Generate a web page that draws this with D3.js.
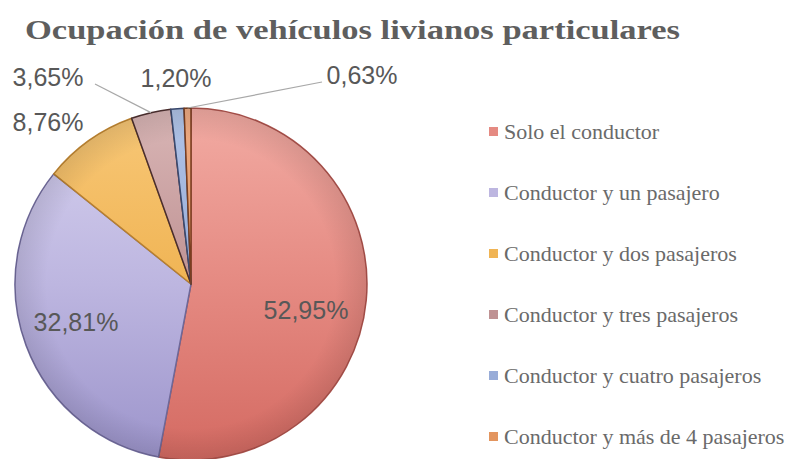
<!DOCTYPE html>
<html>
<head>
<meta charset="utf-8">
<script src="https://cdn.jsdelivr.net/npm/d3@7"></script>
<style>
  body { margin: 0; background: #fff; }
</style>
</head>
<body>
<div id="chart"></div>
<script>
// data
let categories = ['Solo el conductor', 'Conductor y un pasajero', 'Conductor y dos pasajeros',
  'Conductor y tres pasajeros', 'Conductor y cuatro pasajeros', 'Conductor y más de 4 pasajeros'];
let values = [52.95, 32.81, 8.76, 3.65, 1.20, 0.63];
let valueLabels = ['52,95%', '32,81%', '8,76%', '3,65%', '1,20%', '0,63%'];

// colours: top / middle / bottom of each slice gradient
let topColors = ['#f2aba3', '#d6d1ef', '#f8c878', '#d9b6b6', '#b0c3e6', '#eeab84'];
let midColors = ['#e58a82', '#bdb6e0', '#f0b454', '#bf9293', '#98acd8', '#e3955f'];
let bottomColors = ['#d46a62', '#9c94cb', '#e89e3e', '#a07072', '#8094c6', '#d07e4c'];
let strokeColors = ['#a8504a', '#6e6898', '#b88030', '#4a2e2e', '#3a4a70', '#7a3e20'];

// label layout (pixel positions)
let labelPos = [[306, 310], [76, 322], [48, 122], [48, 77], [176, 78], [362, 75]];

let width = 793;
let height = 459;
let cx = 191, cy = 284, radius = 176;

let svg = d3.select('#chart')
  .append('svg')
  .attr('width', width)
  .attr('height', height)
  .style('font-family', 'Liberation Serif, serif');

svg.append('rect').attr('width', width).attr('height', height).attr('fill', '#fff');

let defs = svg.append('defs');
values.forEach(function(v, i) {
  // gradient coordinates are in the pie group's space (centred at 0,0)
  let g = defs.append('linearGradient')
    .attr('id', 'grad' + i)
    .attr('gradientUnits', 'userSpaceOnUse')
    .attr('x1', 0).attr('y1', -radius)
    .attr('x2', 0).attr('y2', radius);
  g.append('stop').attr('offset', '0%').attr('stop-color', topColors[i]);
  g.append('stop').attr('offset', '50%').attr('stop-color', midColors[i]);
  g.append('stop').attr('offset', '100%').attr('stop-color', bottomColors[i]);
});
let rg = defs.append('radialGradient').attr('id', 'edge');
rg.append('stop').attr('offset', '82%').attr('stop-color', '#000').attr('stop-opacity', 0);
rg.append('stop').attr('offset', '100%').attr('stop-color', '#000').attr('stop-opacity', 0.1);

// title
svg.append('text')
  .attr('x', 25)
  .attr('y', 39)
  .attr('font-size', 28)
  .attr('font-weight', 'bold')
  .attr('fill', '#5e5e5e')
  .attr('textLength', 655)
  .attr('lengthAdjust', 'spacingAndGlyphs')
  .text('Ocupación de vehículos livianos particulares');

let pie = d3.pie().sort(null).value(function(d) { return d; });
let data_ready = pie(values);

let arc = d3.arc().innerRadius(0).outerRadius(radius);
let edgeArc = d3.arc().innerRadius(radius).outerRadius(radius);

let g = svg.append('g').attr('transform', 'translate(' + cx + ',' + cy + ')');

g.selectAll('path.slice')
  .data(data_ready)
  .enter()
  .append('path')
  .attr('class', 'slice')
  .attr('d', arc)
  .attr('fill', function(d, i) { return 'url(#grad' + i + ')'; })
  .attr('stroke', function(d, i) { return strokeColors[i]; })
  .attr('stroke-width', 1.5)
  .attr('stroke-linejoin', 'round');

g.append('circle').attr('r', radius).attr('fill', 'url(#edge)').attr('pointer-events', 'none');

// leader lines for the two labels that need one
let leaders = [3, 5];
leaders.forEach(function(i) {
  let p = edgeArc.centroid(data_ready[i]);
  let lx = i === 3 ? labelPos[i][0] + 47 : labelPos[i][0] - 40;
  let ly = labelPos[i][1] + 7;
  svg.append('path')
    .attr('d', 'M' + lx + ',' + ly + 'L' + (cx + p[0]) + ',' + (cy + p[1]))
    .attr('fill', 'none')
    .attr('stroke', '#a8a8a8')
    .attr('stroke-width', 1.2);
});

// value labels
svg.selectAll('text.val')
  .data(valueLabels)
  .enter()
  .append('text')
  .attr('class', 'val')
  .attr('x', function(d, i) { return labelPos[i][0]; })
  .attr('y', function(d, i) { return labelPos[i][1]; })
  .attr('text-anchor', 'middle')
  .attr('dominant-baseline', 'central')
  .attr('font-family', 'Liberation Sans, sans-serif')
  .attr('font-size', 25)
  .attr('fill', '#585858')
  .text(function(d) { return d; });

// legend
let legend = svg.selectAll('g.legend')
  .data(categories)
  .enter()
  .append('g')
  .attr('class', 'legend')
  .attr('transform', function(d, i) { return 'translate(489,' + (130 + i * 61) + ')'; });

legend.append('rect')
  .attr('x', 0).attr('y', -3)
  .attr('width', 9).attr('height', 9)
  .attr('fill', function(d, i) { return midColors[i]; });

legend.append('text')
  .attr('x', 15)
  .attr('y', 1)
  .attr('dominant-baseline', 'central')
  .attr('font-size', 22)
  .attr('fill', '#6a6a6a')
  .text(function(d) { return d; });
</script>
</body>
</html>
